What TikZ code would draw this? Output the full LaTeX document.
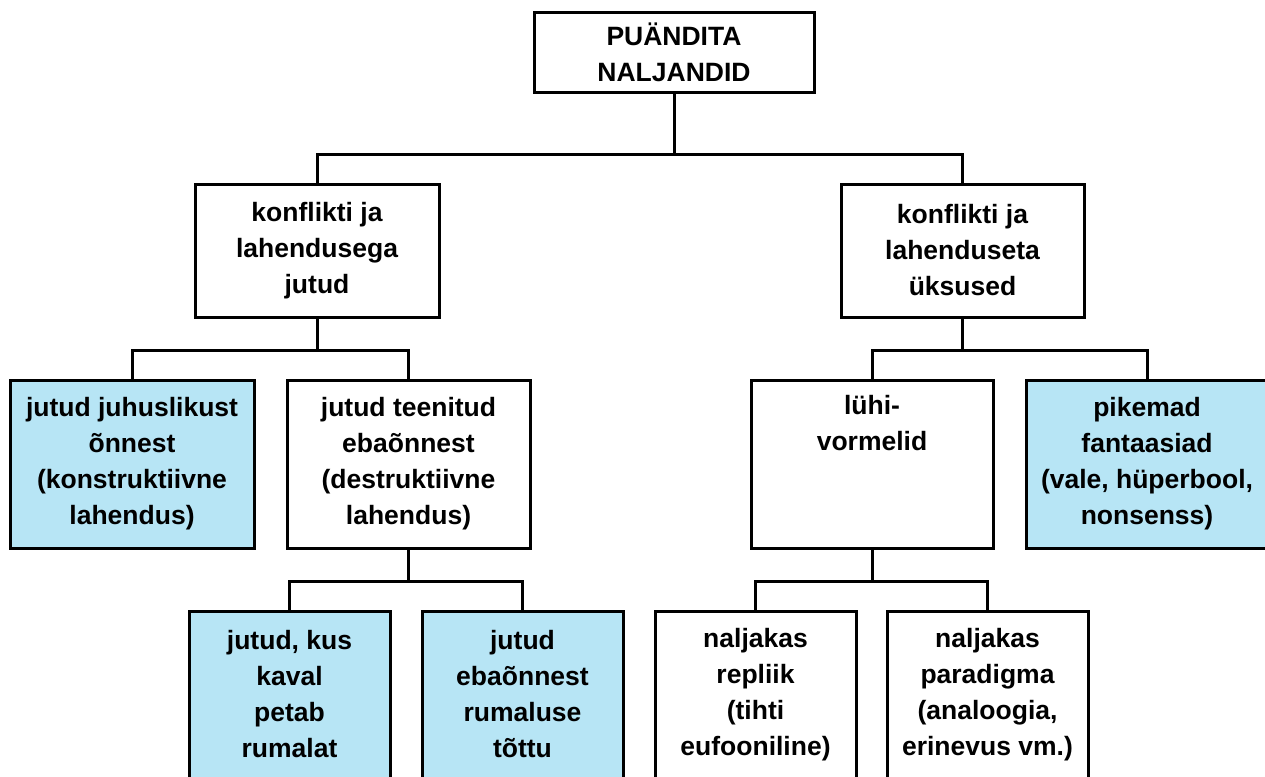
\documentclass[tikz,border=0pt]{standalone}
\usepackage{fontspec}
\setmainfont{Liberation Sans}
\definecolor{boxblue}{HTML}{B7E5F5}
\begin{document}
\begin{tikzpicture}[x=1pt,y=-1pt,
  box/.style={draw=black, line width=3pt, fill=white, align=center, inner sep=0pt,
    font=\fontsize{26.5}{36}\selectfont\bfseries},
  bluebox/.style={box, fill=boxblue},
  link/.style={line width=3pt, line join=miter}]
\useasboundingbox (0,0) rectangle (1265,776);
\clip (0,0) rectangle (1265,776);
\fill[white] (0,0) rectangle (1265,776);
% level 1
\node[box, minimum width=280, minimum height=79] (top) at (674,52.5) {PUÄNDITA\\NALJANDID};
% level 2
\node[box, minimum width=244, minimum height=133] (k1) at (317,250.5) {konflikti ja\\lahendusega\\jutud};
\node[box, minimum width=243, minimum height=133] (k2) at (962.5,250.5) {konflikti ja\\lahenduseta\\üksused};
% level 3
\node[bluebox, minimum width=244, minimum height=168] (b1) at (132,464) {jutud juhuslikust\\õnnest\\(konstruktiivne\\lahendus)};
\node[box, minimum width=243, minimum height=168] (b2) at (408.5,464) {jutud teenitud\\ebaõnnest\\(destruktiivne\\lahendus)};
\node[box, minimum width=242, minimum height=168] (b3) at (872,464) {lühi-\\vormelid\\\strut\\\strut};
\node[bluebox, minimum width=242, minimum height=168] (b4) at (1147,464) {pikemad\\fantaasiad\\(vale, hüperbool,\\nonsenss)};
% level 4
\node[bluebox, minimum width=201, minimum height=167] (c1) at (289.5,694.5) {jutud, kus\\kaval\\petab\\rumalat};
\node[bluebox, minimum width=201, minimum height=167] (c2) at (522.5,694.5) {jutud\\ebaõnnest\\rumaluse\\tõttu};
\node[box, minimum width=201, minimum height=167] (c3) at (755.5,694.5) {naljakas\\repliik\\(tihti\\eufooniline)};
\node[box, minimum width=201, minimum height=167] (c4) at (987.5,694.5) {naljakas\\paradigma\\(analoogia,\\erinevus vm.)};
% connectors
\draw[link] (top.south) -- ++(0,61) -| (k1.north);
\draw[link] (top.south) -- ++(0,61) -| (k2.north);
\draw[link] (k1.south) -- ++(0,32) -| (b1.north);
\draw[link] (k1.south) -- ++(0,32) -| (b2.north);
\draw[link] (k2.south) -- ++(0,32) -| (b3.north);
\draw[link] (k2.south) -- ++(0,32) -| (b4.north);
\draw[link] (b2.south) -- ++(0,32) -| (c1.north);
\draw[link] (b2.south) -- ++(0,32) -| (c2.north);
\draw[link] (b3.south) -- ++(0,32) -| (c3.north);
\draw[link] (b3.south) -- ++(0,32) -| (c4.north);
\end{tikzpicture}
\end{document}
